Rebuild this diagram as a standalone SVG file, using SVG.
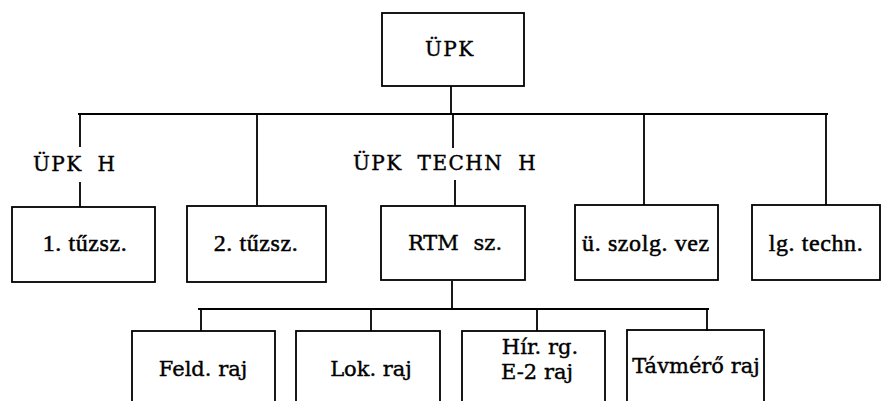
<svg xmlns="http://www.w3.org/2000/svg" width="893" height="401" viewBox="0 0 893 401">
<style>
.box{fill:none;stroke:#000;stroke-width:1.8}
.ln{fill:none;stroke:#000;stroke-width:1.8}
.t1{font-family:"DejaVu Serif",serif;font-size:20px;fill:#000;stroke:#000;stroke-width:0.4;letter-spacing:1.5px;word-spacing:7px}
.t2{font-family:"Liberation Serif",serif;font-size:24px;fill:#000;stroke:#000;stroke-width:0.5;letter-spacing:0.6px;text-anchor:middle}
.t3{font-family:"DejaVu Serif",serif;font-size:21px;fill:#000;stroke:#000;stroke-width:0.4;text-anchor:middle}
</style>
<rect width="893" height="401" fill="#fff"/>
<g id="connectors">
<line class="ln" x1="451" y1="86" x2="451" y2="114"/>
<line class="ln" x1="78" y1="114" x2="828" y2="114"/>
<line class="ln" x1="80" y1="114" x2="80" y2="147"/>
<line class="ln" x1="80" y1="182" x2="80" y2="207"/>
<line class="ln" x1="257" y1="114" x2="257" y2="205"/>
<line class="ln" x1="453" y1="114" x2="453" y2="148"/>
<line class="ln" x1="455" y1="180" x2="455" y2="206"/>
<line class="ln" x1="644" y1="114" x2="644" y2="205"/>
<line class="ln" x1="826" y1="114" x2="826" y2="205"/>
<line class="ln" x1="452" y1="281" x2="452" y2="309"/>
<line class="ln" x1="198" y1="309" x2="709" y2="309"/>
<line class="ln" x1="201" y1="309" x2="201" y2="331"/>
<line class="ln" x1="371" y1="309" x2="371" y2="331"/>
<line class="ln" x1="537" y1="309" x2="537" y2="331"/>
<line class="ln" x1="707" y1="309" x2="707" y2="331"/>
</g>
<g id="upk">
<rect class="box" x="382" y="13" width="142" height="73"/>
<text class="t1" x="425" y="56">ÜPK</text>
</g>
<g id="upk-h">
<text class="t1" x="33" y="171">ÜPK H</text>
</g>
<g id="upk-techn-h">
<text class="t1" x="353" y="170">ÜPK TECHN H</text>
</g>
<g id="tuzsz1">
<rect class="box" x="12" y="207" width="143" height="75"/>
<text class="t2" x="85" y="251">1. tűzsz.</text>
</g>
<g id="tuzsz2">
<rect class="box" x="187" y="206" width="139" height="76"/>
<text class="t2" x="256" y="251">2. tűzsz.</text>
</g>
<g id="rtm">
<rect class="box" x="381" y="206" width="144" height="74"/>
<text class="t3" x="455" y="250" style="word-spacing:8px">RTM sz.</text>
</g>
<g id="szolg">
<rect class="box" x="575" y="205" width="143" height="75"/>
<text class="t2" x="646" y="251">ü. szolg. vez</text>
</g>
<g id="lg">
<rect class="box" x="752" y="205" width="128" height="75"/>
<text class="t2" x="816" y="251">lg. techn.</text>
</g>
<g id="feld">
<rect class="box" x="132" y="331" width="143" height="90"/>
<text class="t3" x="203" y="376">Feld. raj</text>
</g>
<g id="lok">
<rect class="box" x="296" y="331" width="144" height="90"/>
<text class="t3" x="371" y="376">Lok. raj</text>
</g>
<g id="hir">
<rect class="box" x="462" y="331" width="143" height="90"/>
<text class="t3" x="540" y="354">Hír. rg.</text>
<text class="t3" x="537" y="379">E-2 raj</text>
</g>
<g id="tav">
<rect class="box" x="627" y="330" width="137" height="90"/>
<text class="t3" x="696" y="373">Távmérő raj</text>
</g>
</svg>
